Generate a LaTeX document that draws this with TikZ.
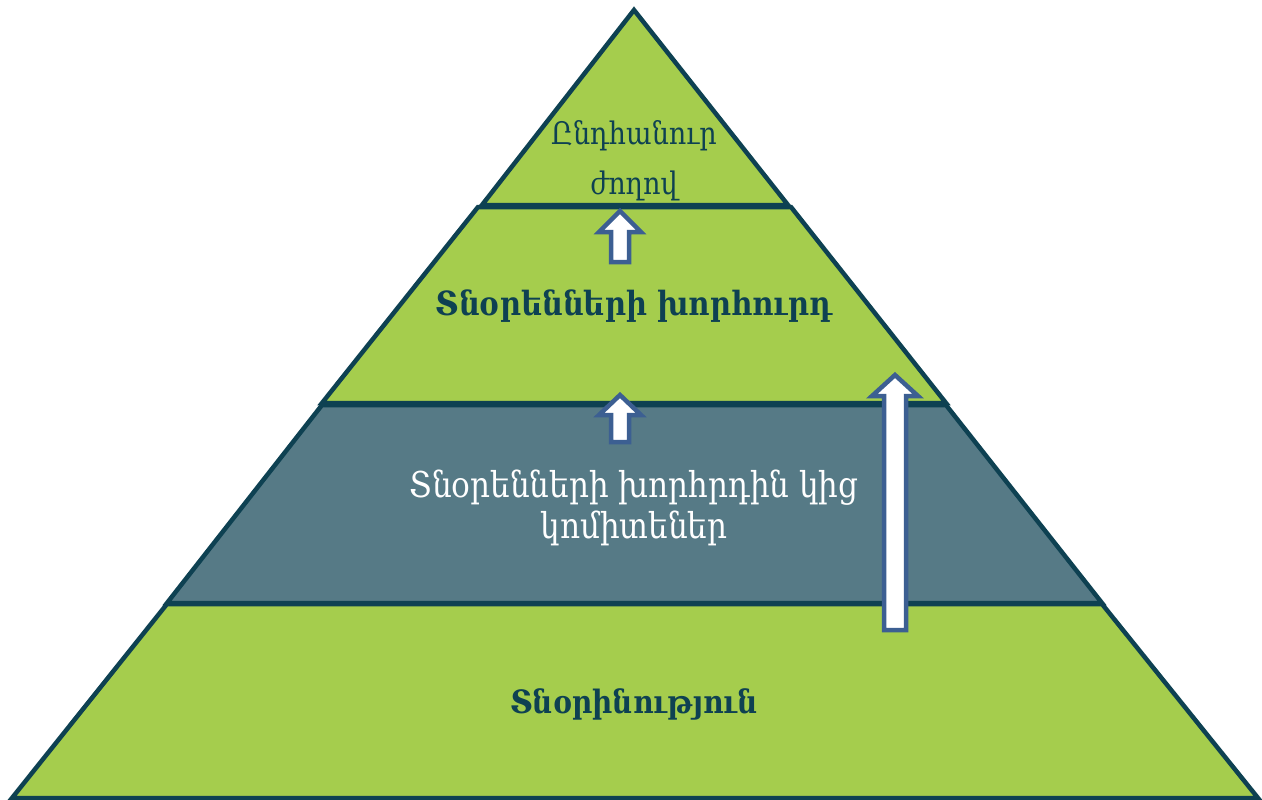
\documentclass[tikz,border=0pt]{standalone}
\usepackage{fontspec}
\setmainfont{DejaVu Serif}
\definecolor{lgreen}{HTML}{A5CD4D}
\definecolor{dteal}{HTML}{0E4152}
\definecolor{midband}{HTML}{567A86}
\definecolor{arrblue}{HTML}{3C5F92}
\newcommand{\tallline}[1]{\scalebox{1}[1.15]{#1}}
\begin{document}
\begin{tikzpicture}[x=1pt,y=-1pt,
  layer/.style={draw=dteal,line width=4.5pt,line join=miter},
  blockarrow/.style={draw=arrblue,fill=white,line width=4.5pt,line join=miter},
  lbl/.style={align=center,text=dteal,font=\bfseries\fontsize{29}{40}\selectfont}]
\useasboundingbox (0,0) rectangle (1262,800);
% layers
\draw[layer,fill=lgreen] (12,798) -- (1258,798) -- (1102,604) -- (167,604) -- cycle;
\draw[layer,fill=midband] (167,603) -- (1102,603) -- (946,405) -- (322,405) -- cycle;
\draw[layer,fill=lgreen] (322,403) -- (946,403) -- (791,207) -- (478,207) -- cycle;
\draw[layer,fill=lgreen] (482,205) -- (788,205) -- (634,10) -- cycle;
% arrows
\draw[blockarrow] (611,262) -- (611,232) -- (599,232) -- (620,211) -- (641,232) -- (629,232) -- (629,262) -- cycle;
\draw[blockarrow] (611,442) -- (611,415) -- (599,415) -- (620,395) -- (641,415) -- (629,415) -- (629,442) -- cycle;
\draw[blockarrow] (884,630) -- (884,396) -- (872,396) -- (895,375) -- (918,396) -- (906,396) -- (906,630) -- cycle;
% labels
\node[lbl,font=\fontsize{27}{50}\selectfont] (top) at (634,161) {\tallline{Ընդհանուր}\\\tallline{ժողով}};
\node[lbl] (board) at (634,306) {\tallline{Տնօրենների խորհուրդ}};
\node[lbl,text=white,font=\fontsize{31}{41}\selectfont] (comm) at (634,508) {\tallline{Տնօրենների խորհրդին կից}\\\tallline{կոմիտեներ}};
\node[lbl,font=\bfseries\fontsize{28}{40}\selectfont] (mgmt) at (634,704) {\tallline{Տնօրինություն}};
\end{tikzpicture}
\end{document}
